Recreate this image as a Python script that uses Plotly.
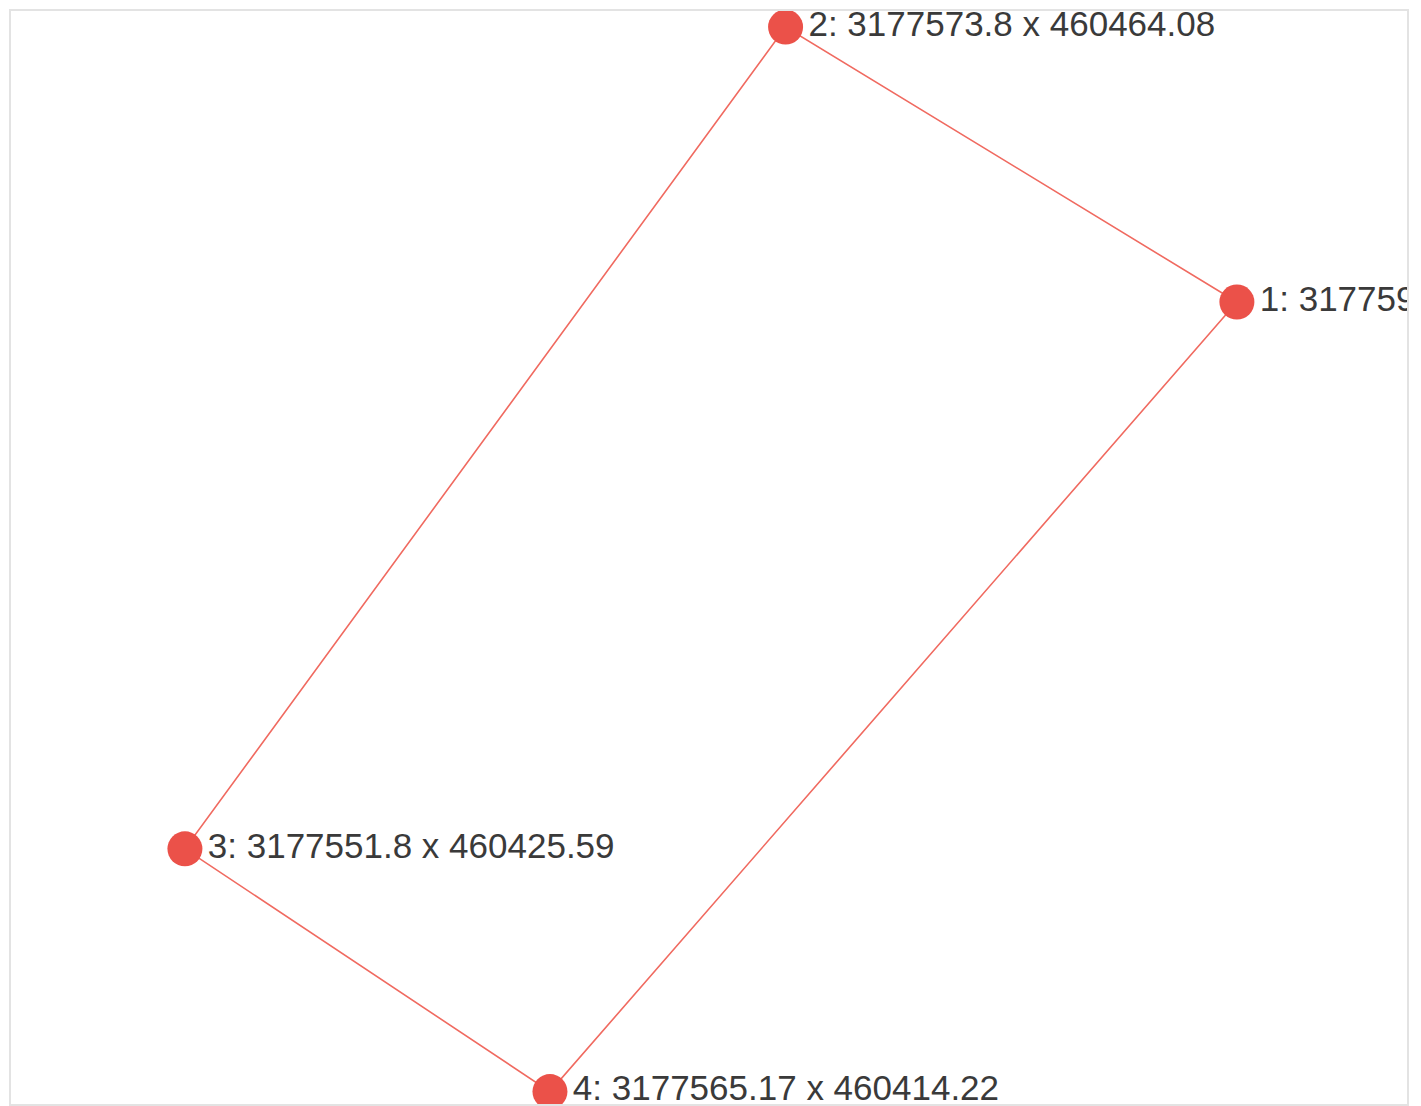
import plotly.graph_objects as go

point_ids = [1, 2, 3, 4]
x_vals = [3177590.33, 3177573.8, 3177551.8, 3177565.17]
y_vals = [460451.2, 460464.08, 460425.59, 460414.22]
labels = [f"{i}: {x} x {y}" for i, x, y in zip(point_ids, x_vals, y_vals)]

red = "#EB5149"

fig = go.Figure()
fig.add_trace(go.Scatter(
    x=x_vals + [x_vals[0]], y=y_vals + [y_vals[0]],
    mode="lines", line=dict(color="#F06A60", width=1.6),
    hoverinfo="skip", showlegend=False,
))
fig.add_trace(go.Scatter(
    x=x_vals, y=y_vals, mode="markers+text",
    marker=dict(size=35, color=red),
    text=labels, textposition="middle right",
    textfont=dict(family="Liberation Sans, Arial, sans-serif", size=35, color="#3A3A3A"),
    showlegend=False, cliponaxis=True,
))

axis_common = dict(showgrid=False, zeroline=False, showticklabels=False, ticks="",
                   showline=True, mirror=True, linecolor="#E3E3E3", linewidth=2)
fig.update_layout(
    width=1405, height=1098,
    margin=dict(l=3, r=6, t=3, b=2),
    paper_bgcolor="white", plot_bgcolor="white",
    xaxis=dict(range=[3177545.43, 3177596.56], **axis_common),
    yaxis=dict(range=[460413.64, 460464.83], **axis_common),
)
fig.write_html("out.html")
